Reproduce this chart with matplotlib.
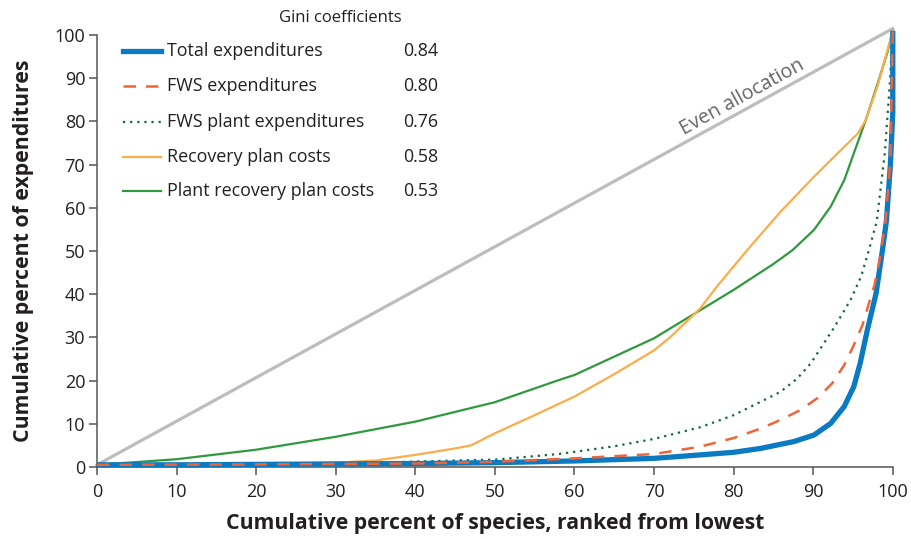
import matplotlib.pyplot as plt

plt.rcParams['font.family'] = ['Open Sans', 'DejaVu Sans']

# cumulative percent of species (x) and expenditures (y)
total_x = [0, 10, 20, 30, 40, 50, 60, 70, 75.8, 80, 83.4, 87.6, 90.1, 92.2, 93.9, 95.1, 95.9,
           96.8, 97.9, 98.7, 99.2, 99.7, 100, 100]
total_y = [0.5, 0.5, 0.6, 0.7, 0.8, 1.0, 1.4, 2.0, 2.8, 3.4, 4.3, 5.9, 7.4, 10.1, 14.0, 18.6, 24.0,
           31.7, 40.2, 50.2, 57, 70, 82, 101]

fws_x = [0, 20, 40, 50, 60, 70, 75.8, 80, 83.4, 85.9, 88.4, 90.5, 92.4, 93.9, 95.1, 96.2, 97, 97.7,
         98.3, 99.1, 99.7, 100]
fws_y = [0.5, 0.6, 0.8, 1.2, 2.0, 3.0, 4.7, 6.7, 8.9, 10.9, 13.2, 15.9, 19.4, 23.6, 28.2, 32.9, 37.9,
         42.1, 47.5, 57, 71, 101]

fws_plant_x = [0, 20, 35, 45, 50, 58, 65, 70, 75.8, 80, 83.4, 85.9, 88.0, 89.7, 92.6, 94.7, 96, 97,
               98, 99, 99.6, 100]
fws_plant_y = [0.5, 0.7, 1.0, 1.5, 1.7, 3.0, 4.8, 6.5, 9.2, 12, 15.1, 17.4, 20.5, 24.0, 32.2, 38.7,
               44, 50.2, 57, 72.7, 88, 101]

recovery_x = [0, 20, 30, 35, 40, 45, 47, 50, 55, 60, 65, 70, 72, 75.8, 78, 81.7, 85.9, 90.1, 93.5,
              95.6, 96.6, 98.1, 100]
recovery_y = [0.5, 0.7, 1.0, 1.5, 2.8, 4.3, 5.0, 7.8, 12, 16.3, 21.5, 27, 30, 36.7, 42, 50.2, 59.1,
              67.2, 73.4, 77.2, 80.3, 88.3, 101]

plant_recovery_x = [0, 10, 20, 30, 40, 50, 58, 60, 70, 75.8, 80, 85, 87.4, 90.1, 92.2, 93.9, 95.1,
                    96.6, 98.1, 99.3, 100]
plant_recovery_y = [0.5, 1.8, 4.0, 7.0, 10.5, 15, 20.1, 21.3, 29.8, 36.3, 41, 47, 50.2, 54.9, 60.3,
                    66.4, 72.6, 80.3, 88.8, 95.8, 101]

even_x = [0, 100]
even_y = [0.5, 101.5]

labels = ["Total expenditures", "FWS expenditures", "FWS plant expenditures",
          "Recovery plan costs", "Plant recovery plan costs"]
gini = ["0.84", "0.80", "0.76", "0.58", "0.53"]

ticks = list(range(0, 101, 10))
dark = "#231f20"

fig = plt.figure(figsize=(9.11, 5.39), dpi=100)
ax = fig.add_axes([0.1065, 0.1336, 0.8735, 0.8014])

ax.plot(even_x, even_y, color="#bdbdbd", lw=2.3, clip_on=False, zorder=1)
ax.plot(plant_recovery_x, plant_recovery_y, color="#2e9a3e", lw=1.6, clip_on=False, zorder=2)
ax.plot(recovery_x, recovery_y, color="#fbad4a", lw=1.6, clip_on=False, zorder=2)
ax.plot(fws_plant_x, fws_plant_y, color="#13683c", lw=1.6, ls=(0, (1, 2.2)), clip_on=False, zorder=3)
ax.plot(total_x, total_y, color="#0a7bc2", lw=3.8, clip_on=False, zorder=3,
        solid_capstyle="butt", solid_joinstyle="round")
ax.plot(fws_x, fws_y, color="#f0643a", lw=1.8, ls=(0, (5, 4)), clip_on=False, zorder=4)

ax.text(81.1, 85.6, "Even allocation", rotation=28.8, color="#666666", fontsize=14.2,
        ha="center", va="center", rotation_mode="anchor")

ax.set_xlim(0, 100)
ax.set_ylim(0, 100)
ax.set_xticks(ticks)
ax.set_yticks(ticks)
ax.tick_params(direction="out", length=5.5, width=1.1, colors="#555555", labelcolor=dark,
               labelsize=13, pad=3)
ax.tick_params(axis="x", pad=6)
for side in ["top", "right"]:
    ax.spines[side].set_visible(False)
for side in ["left", "bottom"]:
    ax.spines[side].set_color("#555555")
    ax.spines[side].set_linewidth(1.1)

ax.set_xlabel("Cumulative percent of species, ranked from lowest", fontsize=15.3,
              fontweight="bold", color=dark, labelpad=9)
ax.set_ylabel("Cumulative percent of expenditures", fontsize=15.3,
              fontweight="bold", color=dark, labelpad=15)

# legend with Gini coefficients, drawn in figure pixels
W, H = 911, 539
styles = [
    dict(color="#0a7bc2", lw=3.8),
    dict(color="#f0643a", lw=1.8, ls=(0, (5, 4))),
    dict(color="#13683c", lw=1.6, ls=(0, (1, 2.2))),
    dict(color="#fbad4a", lw=1.6),
    dict(color="#2e9a3e", lw=1.6),
]
fig.text(340 / W, 1 - 18 / H, "Gini coefficients", fontsize=12, color=dark,
         ha="center", va="center")
rows = [51, 86, 122, 157, 191]
for row, lab, g, st in zip(rows, labels, gini, styles):
    yy = 1 - row / H
    fig.add_artist(plt.Line2D([123 / W, 161 / W], [yy, yy], **st))
    fig.text(167 / W, yy, lab, fontsize=12.9, color=dark, va="center")
    fig.text(403 / W, yy, g, fontsize=12.9, color=dark, va="center")

fig.savefig("out.png", dpi=100)
